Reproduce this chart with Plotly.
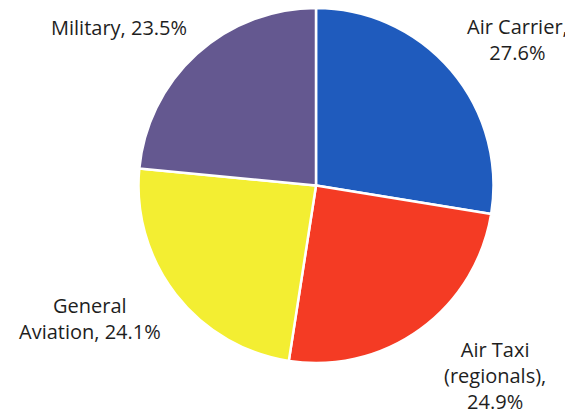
import plotly.graph_objects as go

categories = ["Air Carrier", "Air Taxi (regionals)", "General Aviation", "Military"]
values = [27.6, 24.9, 24.1, 23.5]
label_lines = ["Air Carrier,<br>{v}%", "Air Taxi<br>(regionals),<br>{v}%", "General<br>Aviation, {v}%", "Military, {v}%"]
colors = ["#1f5bbd", "#f43b24", "#f3ee32", "#645890"]
label_pos = [(509, 32), (487, 367), (82, 310), (111, 19)]

W, H = 573, 417
fig = go.Figure(go.Pie(
    labels=categories, values=values, sort=False, direction="clockwise", rotation=0,
    marker=dict(colors=colors, line=dict(color="white", width=2.5)),
    textinfo="none", hoverinfo="label+percent",
    domain=dict(x=[128 / W, 488 / W], y=[1 - 355 / H, 1 - 0 / H]),
    showlegend=False,
))
for lab, v, (px, py) in zip(label_lines, values, label_pos):
    fig.add_annotation(text=lab.format(v=v), x=px / W, y=1 - py / H, xref="paper", yref="paper",
                       xanchor="center", yanchor="middle", showarrow=False, align="center",
                       borderpad=0,
                       font=dict(family="Open Sans, sans-serif", size=20, color="#1e1e1e"))
fig.update_layout(width=W, height=H, margin=dict(l=0, r=0, t=0, b=0),
                  paper_bgcolor="white", plot_bgcolor="white")
fig.write_html("out.html")
